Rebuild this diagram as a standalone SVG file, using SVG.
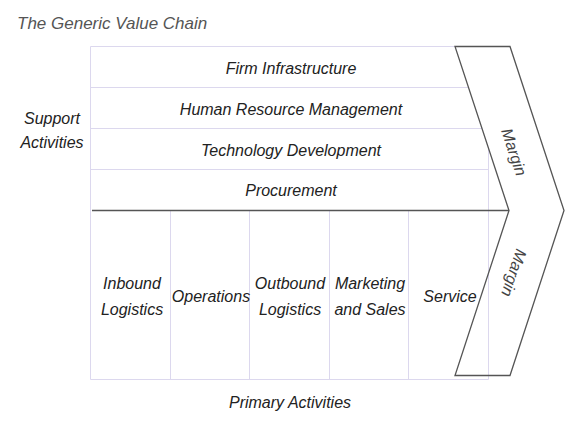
<svg xmlns="http://www.w3.org/2000/svg" width="576" height="432" viewBox="0 0 576 432">
<style>
text{font-family:"Liberation Sans","DejaVu Sans",sans-serif;font-style:italic;font-size:16px;fill:#222;text-anchor:middle;dominant-baseline:central}
.grid{stroke:#dcd8ee;stroke-width:1;fill:none}
.dark{stroke:#555;stroke-width:1.3;fill:none}
</style>
<rect width="576" height="432" fill="#fff"/>
<text x="17" y="23" style="text-anchor:start;font-size:17px;fill:#555">The Generic Value Chain</text>
<g id="grid">
<path class="grid" d="M90.5 46.5H455M90.5 46.5V379.5H488.5M488.5 379.5V147M90.5 87.5H468.5M90.5 128.5H482M90.5 169.5H488.5M170.5 210V379.5M249.5 210V379.5M329.5 210V379.5M408.5 210V379.5"/>
</g>
<g id="connectors">
<path class="dark" d="M92 210.5H509"/>
</g>
<g id="margin">
<polygon class="dark" points="455,46.5 510,46.5 564,210.5 510,375.5 455,375.5 509,210.5"/>
<text transform="translate(514,152) rotate(71.5)" style="fill:#444">Margin</text>
<text transform="translate(514,273) rotate(108.5)" style="fill:#444">Margin</text>
</g>
<g id="firm"><text x="291" y="68">Firm Infrastructure</text></g>
<g id="hrm"><text x="291" y="109">Human Resource Management</text></g>
<g id="tech"><text x="291" y="150">Technology Development</text></g>
<g id="proc"><text x="291" y="190">Procurement</text></g>
<g id="support"><text x="52" y="118">Support</text><text x="52" y="142">Activities</text></g>
<g id="inbound"><text x="132" y="283">Inbound</text><text x="132" y="309">Logistics</text></g>
<g id="operations"><text x="211" y="296">Operations</text></g>
<g id="outbound"><text x="290" y="283">Outbound</text><text x="290" y="309">Logistics</text></g>
<g id="marketing"><text x="370" y="283">Marketing</text><text x="370" y="309">and Sales</text></g>
<g id="service"><text x="450" y="296">Service</text></g>
<g id="primary"><text x="290" y="402">Primary Activities</text></g>
</svg>
